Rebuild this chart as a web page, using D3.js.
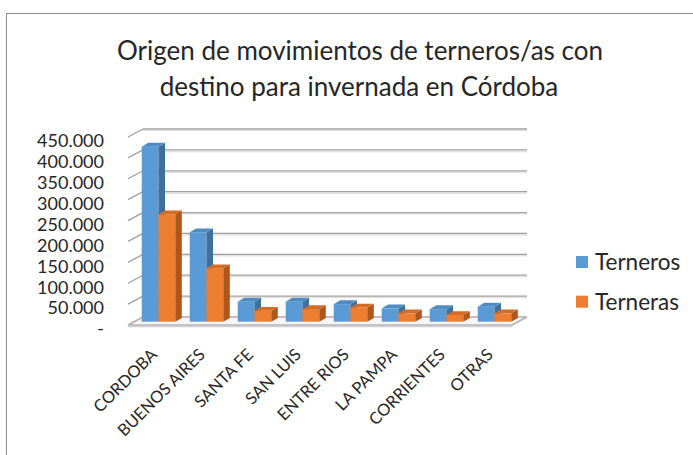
<!DOCTYPE html>
<meta charset="utf-8">
<head>
    <script src="https://d3js.org/d3.v7.min.js"></script>
    <style>
        body { margin: 0; background: #fff; }
        text { font-family: Lato, "Open Sans", sans-serif; fill: #262626; }
    </style>
</head>
<body>
<div id="chart"></div>
<script>
    var categories = ["CORDOBA", "BUENOS AIRES", "SANTA FE", "SAN LUIS", "ENTRE RIOS", "LA PAMPA", "CORRIENTES", "OTRAS"];
    var terneros = [419000, 214000, 48000, 48000, 42000, 32000, 30000, 36000];
    var terneras = [257000, 128000, 26000, 30000, 34000, 20000, 16000, 20000];
    var seriesNames = ["Terneros", "Terneras"];
    var yTicks = [0, 50000, 100000, 150000, 200000, 250000, 300000, 350000, 400000, 450000];
    var yTickLabels = ["-", "50.000", "100.000", "150.000", "200.000", "250.000", "300.000", "350.000", "400.000", "450.000"];

    var width = 693, height = 455;

    // back wall box, and how far the front edge of the floor sits from it
    var wall = {left: 143, right: 527, floor: 317, top: 129};
    var depth = {x: -15, y: 8};
    var barShift = {x: -8.5, y: 4.7};   // front face of the columns
    var barSide = {x: 6.5, y: 3.8};     // visible depth of a column

    var colors = {
        Terneros: {front: "#5b9bd5", side: "#3f6f9c", top: "#4f8cc4"},
        Terneras: {front: "#ed7d31", side: "#ae561c", top: "#d46c26"}
    };

    var svg = d3.select("#chart").append("svg")
        .attr("width", width)
        .attr("height", height);

    svg.append("rect")
        .attr("x", 6.5).attr("y", 13.5)
        .attr("width", 720).attr("height", 500)
        .attr("fill", "#fff")
        .attr("stroke", "#8c8c8c");

    var title = svg.append("text")
        .attr("text-anchor", "middle")
        .style("font-size", "26px");
    title.append("tspan").attr("x", 360).attr("y", 60).text("Origen de movimientos de terneros/as con");
    title.append("tspan").attr("x", 359).attr("y", 96).text("destino para invernada en Córdoba");

    var y = d3.scaleLinear().domain([0, 450000]).range([wall.floor, wall.top]);

    var x0 = d3.scaleBand().domain(categories)
        .range([wall.left, wall.right])
        .paddingInner(0.3).paddingOuter(0.15);
    var x1 = d3.scaleBand().domain(seriesNames).range([0, x0.bandwidth()]);

    // gridlines: back wall plus the little slanted piece on the side wall
    var grid = svg.append("g");
    grid.selectAll(".shade")
        .data(yTicks.slice(1))
        .enter().append("line")
        .attr("x1", wall.left).attr("x2", wall.right)
        .attr("y1", function(d) { return y(d) + 1.5; })
        .attr("y2", function(d) { return y(d) + 1.5; })
        .attr("stroke", "#e3e3e3").attr("stroke-width", 1.5);
    grid.selectAll(".back")
        .data(yTicks.slice(1))
        .enter().append("line")
        .attr("x1", wall.left).attr("x2", wall.right)
        .attr("y1", function(d) { return y(d); })
        .attr("y2", function(d) { return y(d); })
        .attr("stroke", "#a0a0a0").attr("stroke-width", 1.3);
    grid.selectAll(".side")
        .data(yTicks.slice(1))
        .enter().append("line")
        .attr("x1", wall.left + depth.x).attr("x2", wall.left)
        .attr("y1", function(d) { return y(d) + depth.y; })
        .attr("y2", function(d) { return y(d); })
        .attr("stroke", "#a0a0a0").attr("stroke-width", 1.3);

    // floor
    var floorPts = [
        [wall.left + depth.x, wall.floor + depth.y],
        [wall.right + depth.x, wall.floor + depth.y],
        [wall.right, wall.floor],
        [wall.left, wall.floor]
    ];
    svg.append("polygon")
        .attr("points", floorPts.map(function(p) { return p.join(","); }).join(" "))
        .attr("fill", "#f7f7f7")
        .attr("stroke", "#b0b0b0")
        .attr("stroke-width", 1.5);
    svg.append("line")
        .attr("x1", wall.left + depth.x).attr("x2", wall.right + depth.x)
        .attr("y1", wall.floor + depth.y + 1.5).attr("y2", wall.floor + depth.y + 1.5)
        .attr("stroke", "#d0d0d0").attr("stroke-width", 1.5);

    // columns
    var bars = [];
    categories.forEach(function(c, i) {
        bars.push({cat: c, series: "Terneros", value: terneros[i]});
        bars.push({cat: c, series: "Terneras", value: terneras[i]});
    });

    var col = svg.append("g").selectAll("g")
        .data(bars)
        .enter().append("g");

    function bx(d) { return x0(d.cat) + x1(d.series) + barShift.x; }
    function btop(d) { return y(d.value) + barShift.y; }
    var bbottom = y(0) + barShift.y;
    var bw = x1.bandwidth();

    col.append("rect")
        .attr("x", bx)
        .attr("y", btop)
        .attr("width", bw)
        .attr("height", function(d) { return bbottom - btop(d); })
        .attr("fill", function(d) { return colors[d.series].front; });
    col.append("polygon")
        .attr("points", function(d) {
            var x = bx(d) + bw, t = btop(d);
            return [[x, t], [x + barSide.x, t - barSide.y], [x + barSide.x, bbottom - barSide.y], [x, bbottom]].join(" ");
        })
        .attr("fill", function(d) { return colors[d.series].side; });
    col.append("polygon")
        .attr("points", function(d) {
            var x = bx(d), t = btop(d);
            return [[x, t], [x + barSide.x, t - barSide.y], [x + bw + barSide.x, t - barSide.y], [x + bw, t]].join(" ");
        })
        .attr("fill", function(d) { return colors[d.series].top; });

    // y axis labels
    svg.append("g").selectAll("text")
        .data(yTicks)
        .enter().append("text")
        .attr("x", 104)
        .attr("y", function(d) { return y(d) + depth.y + 4; })
        .attr("dy", "0.35em")
        .attr("text-anchor", "end")
        .style("font-size", "18px")
        .text(function(d, i) { return yTickLabels[i]; });

    // category labels, slanted
    svg.append("g").selectAll("text")
        .data(categories)
        .enter().append("text")
        .attr("text-anchor", "end")
        .style("font-size", "16.5px")
        .attr("transform", function(d) {
            var cx = x0(d) + x0.bandwidth() / 2 + depth.x - 2;
            return "translate(" + cx + "," + 347.5 + ") rotate(-45)";
        })
        .attr("dy", "0.7em")
        .text(function(d) { return d; });

    // legend
    var legend = svg.append("g").selectAll("g")
        .data(seriesNames)
        .enter().append("g")
        .attr("transform", function(d, i) { return "translate(576," + (262 + i * 39.7) + ")"; });
    legend.append("rect")
        .attr("x", 0).attr("y", -6)
        .attr("width", 12).attr("height", 12)
        .attr("fill", function(d) { return colors[d].front; });
    legend.append("text")
        .attr("x", 19)
        .attr("dy", "0.35em")
        .style("font-size", "22.5px")
        .text(function(d) { return d; });
</script>
</body>
